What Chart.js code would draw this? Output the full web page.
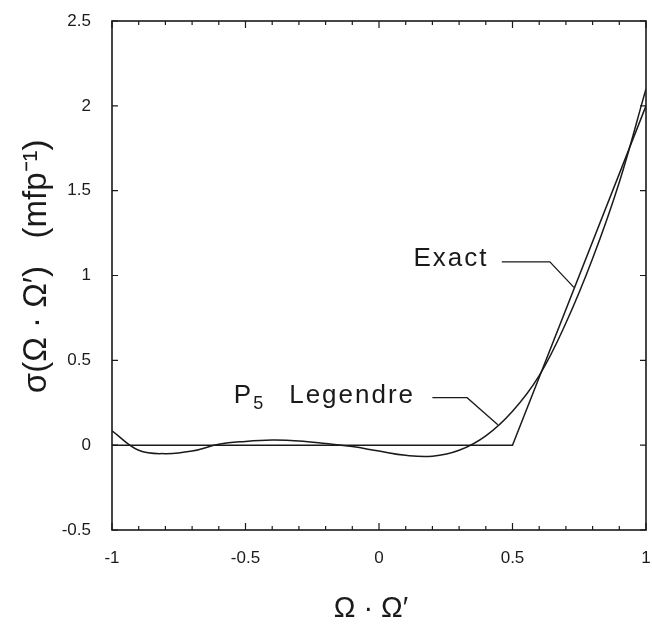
<!DOCTYPE html>
<html>
<head>
<meta charset="utf-8">
<script src="https://cdn.jsdelivr.net/npm/chart.js@4.4.1/dist/chart.umd.min.js"></script>
<style>
  html, body { margin: 0; padding: 0; background: #fff; }
  #wrap { width: 652px; height: 626px; }
</style>
</head>
<body>
<div id="wrap"><canvas id="sigma"></canvas></div>
<script>
// values
const legendreX = [-1, -0.9, -0.8, -0.7, -0.6, -0.5, -0.4, -0.3, -0.2, -0.1, 0, 0.1, 0.2, 0.3, 0.4, 0.5, 0.6, 0.7, 0.8, 0.9, 1];
const legendreY = [0.085, -0.03, -0.05, -0.035, 0.005, 0.022, 0.03, 0.025, 0.01, -0.008, -0.035, -0.06, -0.065, -0.03, 0.055, 0.2, 0.41, 0.72, 1.1, 1.55, 2.1];
const exactX = [-1, 0.5, 1];
const exactY = [0, 0, 2.0];

const xTicks = [-1, -0.5, 0, 0.5, 1];
const yTicks = [-0.5, 0, 0.5, 1, 1.5, 2, 2.5];

// callouts: text anchor and leader line, in data units
const callouts = [
    { text: "Exact", sub: null, at: [0.41, 1.1], line: [[0.46, 1.08], [0.64, 1.08], [0.73, 0.93]] },
    { text: "Legendre", sub: "5", at: [0.135, 0.29], line: [[0.2, 0.28], [0.33, 0.28], [0.445, 0.12]] },
];

const ink = "#1a1a1a";
const fam = "'Liberation Sans', Arial, sans-serif";
const tickFont = { family: fam, size: 17 };

const toPoints = (xs, ys) => xs.map((x, i) => ({ x: x, y: ys[i] }));

// box around the plot with inward ticks on all four sides
const frame = {
    id: "frame",
    afterDatasetsDraw(chart) {
        const { ctx, chartArea: a, scales } = chart;
        const sx = scales.x, sy = scales.y;
        ctx.save();
        ctx.strokeStyle = ink;
        ctx.lineWidth = 1.6;
        ctx.strokeRect(a.left, a.top, a.right - a.left, a.bottom - a.top);
        ctx.lineWidth = 1.2;
        ctx.beginPath();
        for (let i = -10; i <= 10; i++) {
            const px = sx.getPixelForValue(i / 10);
            const len = i % 5 === 0 ? 7 : 4;
            ctx.moveTo(px, a.bottom); ctx.lineTo(px, a.bottom - len);
            ctx.moveTo(px, a.top); ctx.lineTo(px, a.top + len);
        }
        yTicks.forEach((v) => {
            const py = sy.getPixelForValue(v);
            ctx.moveTo(a.left, py); ctx.lineTo(a.left + 6, py);
            ctx.moveTo(a.right, py); ctx.lineTo(a.right - 6, py);
        });
        ctx.stroke();
        ctx.restore();
    },
};

const labels = {
    id: "labels",
    afterDatasetsDraw(chart) {
        const { ctx, scales } = chart;
        const sx = scales.x, sy = scales.y;
        ctx.save();
        ctx.strokeStyle = ink;
        ctx.fillStyle = ink;
        ctx.lineWidth = 1.3;
        ctx.letterSpacing = "2px";
        callouts.forEach((c) => {
            ctx.beginPath();
            c.line.forEach((p, i) => {
                const px = sx.getPixelForValue(p[0]), py = sy.getPixelForValue(p[1]);
                if (i === 0) ctx.moveTo(px, py); else ctx.lineTo(px, py);
            });
            ctx.stroke();
            const tx = sx.getPixelForValue(c.at[0]);
            const ty = sy.getPixelForValue(c.at[1]);
            ctx.textBaseline = "middle";
            ctx.textAlign = "right";
            ctx.font = "26px " + fam;
            ctx.fillText(c.text, tx, ty);
            if (c.sub) {
                const w = ctx.measureText(c.text).width;
                const gap = 24;
                ctx.font = "18px " + fam;
                const sw = ctx.measureText(c.sub).width;
                ctx.fillText(c.sub, tx - w - gap, ty + 8);
                ctx.font = "26px " + fam;
                ctx.fillText("P", tx - w - gap - sw, ty);
            }
        });
        ctx.restore();
    },
};

const ctx = document.getElementById("sigma").getContext("2d");
const chart = new Chart(ctx, {
    type: "line",
    data: {
        datasets: [
            {
                label: "P5 Legendre",
                data: toPoints(legendreX, legendreY),
                borderColor: ink,
                borderWidth: 1.5,
                pointRadius: 0,
                tension: 0.4,
                fill: false,
            },
            {
                label: "Exact",
                data: toPoints(exactX, exactY),
                borderColor: ink,
                borderWidth: 1.5,
                pointRadius: 0,
                tension: 0,
                fill: false,
            },
        ],
    },
    options: {
        responsive: true,
        maintainAspectRatio: false,
        animation: false,
        layout: {
            padding: { left: 0, right: 6, top: 21, bottom: 0 },
        },
        scales: {
            x: {
                type: "linear",
                min: -1,
                max: 1,
                afterFit: (s) => { s.height = 96; s.paddingLeft = 0; s.paddingRight = 0; },
                afterBuildTicks: (s) => { s.ticks = xTicks.map((v) => ({ value: v })); },
                grid: { display: false },
                border: { display: false },
                ticks: {
                    color: ink,
                    font: tickFont,
                    padding: 10,
                    maxRotation: 0,
                    callback: (v) => String(v),
                },
                title: {
                    display: true,
                    text: "Ω · Ω′  ",
                    color: ink,
                    font: { family: fam, size: 29 },
                    padding: { top: 0, bottom: 0 },
                },
            },
            y: {
                type: "linear",
                min: -0.5,
                max: 2.5,
                afterFit: (s) => { s.width = 112; s.paddingTop = 0; s.paddingBottom = 0; },
                afterBuildTicks: (s) => { s.ticks = yTicks.map((v) => ({ value: v })); },
                grid: { display: false },
                border: { display: false },
                ticks: {
                    color: ink,
                    font: tickFont,
                    padding: 13,
                    callback: (v) => String(v),
                },
                title: {
                    display: true,
                    text: "  σ(Ω · Ω′)   (mfp⁻¹)",
                    color: ink,
                    font: { family: fam, size: 33 },
                    padding: { top: 17, bottom: 0 },
                },
            },
        },
        plugins: {
            legend: { display: false },
            tooltip: { enabled: false },
        },
    },
    plugins: [frame, labels],
});
</script>
</body>
</html>
